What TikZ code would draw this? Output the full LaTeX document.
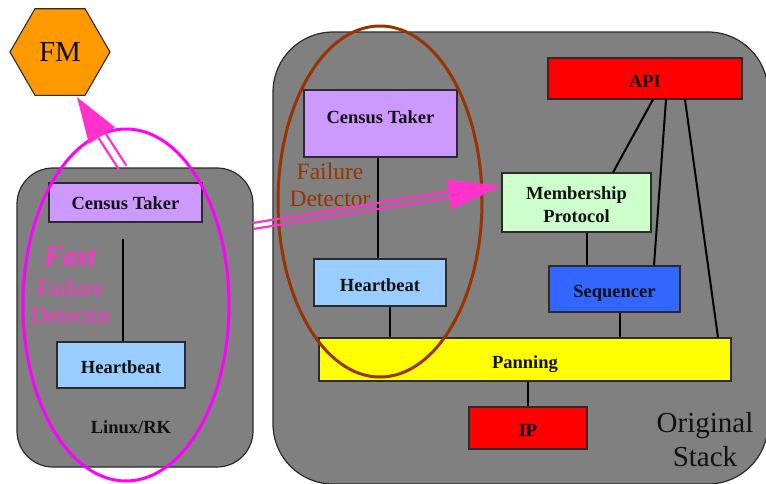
\documentclass[tikz,border=0pt]{standalone}
\usepackage{fontspec}
\setmainfont{Liberation Serif}
\usetikzlibrary{calc,shapes.geometric}

\definecolor{panelgray}{HTML}{808080}
\definecolor{edgegray}{HTML}{2B2B2B}
\definecolor{census}{HTML}{CC99FF}
\definecolor{beat}{HTML}{99CCFF}
\definecolor{member}{HTML}{CCFFCC}
\definecolor{seqblue}{HTML}{3366FF}
\definecolor{layerred}{HTML}{FF0000}
\definecolor{panyellow}{HTML}{FFFF00}
\definecolor{fmorange}{HTML}{FF9900}
\definecolor{fastpink}{HTML}{FF33CC}
\definecolor{ringpink}{HTML}{FF00FF}
\definecolor{detbrown}{HTML}{993300}
\definecolor{inktext}{HTML}{111111}

\tikzset{
  panel/.style={draw=edgegray, line width=1.2pt, fill=panelgray, inner sep=0pt},
  module/.style={draw=edgegray, line width=1.1pt, inner sep=0pt, text=inktext,
    font=\fontsize{18.5}{23}\selectfont\bfseries, align=center,
    text height=17pt, text depth=0pt},
  wire/.style={draw=black, line width=2pt},
  ring/.style={line width=3pt},
  pinkline/.style={draw=fastpink, line width=2.2pt},
  headfill/.style={fill=fastpink},
  tag/.style={inner sep=0pt, font=\fontsize{23.5}{26}\selectfont}
}

% double-lined arrow with a filled triangular head
% #1 tail, #2 tip, #3 head length, #4 half head width, #5 half line gap
\newcommand\pinkarrow[5]{%
  \coordinate (pa-b) at ($(#2)!#3!(#1)$);
  \draw[pinkline] ($(#1)!#5!90:(#2)$) -- ($(pa-b)!#5!90:(#2)$);
  \draw[pinkline] ($(#1)!#5!-90:(#2)$) -- ($(pa-b)!#5!-90:(#2)$);
  \fill[headfill] (#2) -- ($(pa-b)!#4!90:(#2)$) -- ($(pa-b)!#4!-90:(#2)$) -- cycle;
}

\begin{document}
\begin{tikzpicture}[x=1pt,y=-1pt]
\useasboundingbox (0,0) rectangle (766,483);

% platform panels
\begin{scope}
  \clip (0,0) rectangle (766,483);
  \node[panel, rounded corners=60pt, minimum width=495pt, minimum height=452pt]
    (stack) at (520.5,258) {};
\end{scope}
\node[panel, rounded corners=36pt, minimum width=236pt, minimum height=299pt]
  (linux) at (135,317.5) {};

% fault manager
\node[regular polygon, regular polygon sides=6, minimum size=100pt, inner sep=0pt,
  draw=edgegray, line width=1.1pt, fill=fmorange, text=inktext,
  font=\fontsize{29}{32}\selectfont] (fm) at (60,52) {FM\hspace{14pt}};

% Linux/RK side
\node[module, fill=census, minimum width=153pt, minimum height=39pt,
  text height=13pt] (ctL) at (125.5,202.5) {Census Taker};
\node[module, fill=beat, minimum width=128pt, minimum height=46pt,
  text height=16pt] (hbL) at (121,365) {Heartbeat};
\node[module, draw=none, text height=13pt] (rk) at (131,427) {Linux/RK};
\draw[wire] ([xshift=-2.5pt,yshift=-16pt]ctL.south) -- ([xshift=2pt]hbL.north);

\node[tag, text=fastpink, font=\fontsize{28}{30}\selectfont\bfseries\itshape] (fastA) at (70,256) {Fast};
\node[tag, text=fastpink] (fastB) at (70,288) {Failure};
\node[tag, text=fastpink] (fastC) at (71,316) {Detector};

% original stack
\node[module, fill=census, minimum width=153pt, minimum height=67pt,
  text height=12pt, text depth=12pt] (ctR) at (380.5,123.5) {Census Taker};
\node[module, fill=beat, minimum width=132pt, minimum height=47pt] (hbR) at (380,282.5) {Heartbeat};
\node[module, fill=layerred, minimum width=194pt, minimum height=41pt] (api) at (645,78.5) {API};
\node[module, fill=member, minimum width=149pt, minimum height=59pt,
  text height=39pt, text depth=0pt] (mp) at (576.5,202.5) {Membership\\Protocol};
\node[module, fill=seqblue, minimum width=131pt, minimum height=46pt] (sq) at (614.5,289) {Sequencer};
\node[module, fill=panyellow, minimum width=412pt, minimum height=43pt] (pan) at (525,359.5) {Panning};
\node[module, fill=layerred, minimum width=118pt, minimum height=42pt] (ip) at (528,428) {IP};

\node[tag, text=inktext, align=center, font=\fontsize{29}{34}\selectfont] (orig) at (705,440) {Original\\Stack};

\node[tag, text=detbrown] (detA) at (330,171) {Failure};
\node[tag, text=detbrown] (detB) at (330,199) {Detector};

\draw[wire] ([xshift=-2.5pt]ctR.south) -- ([xshift=-2pt]hbR.north);
\draw[wire] ([xshift=10pt]hbR.south) -- ([xshift=10pt]hbR.south |- pan.north);
\draw[wire] ([xshift=8pt]api.south) -- ([xshift=36.5pt]mp.north);
\draw[wire] ([xshift=21pt]api.south) -- ([xshift=39.5pt]sq.north);
\draw[wire] ([xshift=40pt]api.south) -- ([xshift=193pt]pan.north);
\draw[wire] ([xshift=10.5pt]mp.south) -- ([xshift=-27.5pt]sq.north);
\draw[wire] ([xshift=5.5pt]sq.south) -- ([xshift=5.5pt]sq.south |- pan.north);
\draw[wire] ([xshift=3pt]pan.south) -- (ip.north);

% detector outlines
\draw[ring, draw=ringpink] (126,305) ellipse [x radius=103, y radius=176];
\draw[ring, draw=detbrown] (380,201.5) ellipse [x radius=102, y radius=175.5];

% notifications
\coordinate (fmtail) at (123,168);
\coordinate (fmtip) at (77,97);
\pinkarrow{fmtail}{fmtip}{46pt}{15.5pt}{4.2pt}
\coordinate (mptail) at (253,226);
\coordinate (mptip) at ($(mp.west)+(0,-16.5)$);
\pinkarrow{mptail}{mptip}{53pt}{15pt}{3pt}

\end{tikzpicture}
\end{document}
